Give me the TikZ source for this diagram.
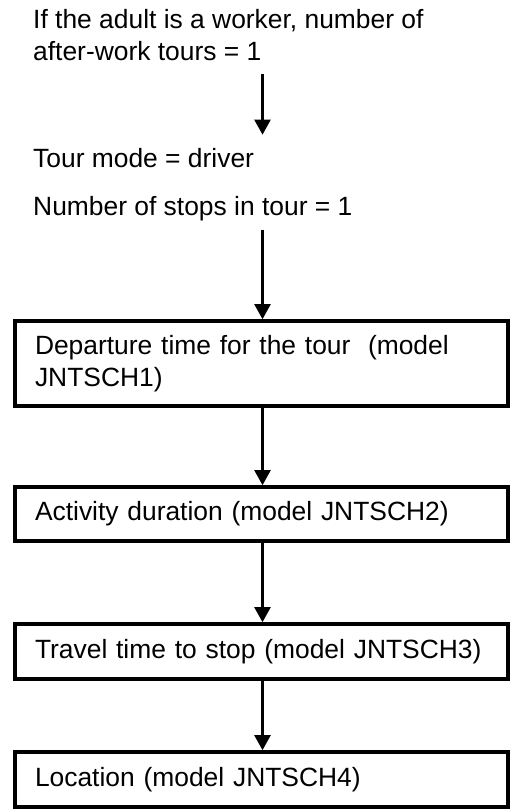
\documentclass[tikz,border=0pt]{standalone}
\usepackage{fontspec}
\setmainfont{Liberation Sans}
\usetikzlibrary{arrows.meta,calc}

\tikzset{
  FlowTxt/.style={inner sep=0pt,align=left,anchor=base west,font=\fontsize{26.4}{32}\selectfont},
  FlowBox/.style={draw,line width=3.6pt,inner xsep=20pt,inner ysep=0pt,
    text width=453pt,align=left,minimum height=#1,font=\fontsize{26.4}{32}\selectfont},
  FlowArr/.style={line width=2.2pt,-{Triangle[width=16pt,length=15pt]}}
}

\begin{document}
\begin{tikzpicture}[x=1pt,y=-1pt]
\useasboundingbox (0,0) rectangle (514,809);

\coordinate (ax) at (262.5,0);

% base of a two-line node = base of its last line
\node[FlowTxt] (intro) at (33,60) {If the adult is a worker, number of\\after-work tours = 1};
\node[FlowTxt] (mode) at (33,167) {Tour mode = driver};
\node[FlowTxt] (stops) at (33,215) {Number of stops in tour = 1};

\node[FlowBox=85pt] (dep) at (261.5,363.5) {Departure time for the tour\ \ (model\\JNTSCH1)};
\node[FlowBox=54pt] (dur) at (261.5,514) {Activity duration (model JNTSCH2)};
\node[FlowBox=55pt] (trv) at (261.5,651.5) {Travel time to stop (model JNTSCH3)};
\node[FlowBox=55pt] (loc) at (261.5,779.5) {Location (model JNTSCH4)};

\draw[FlowArr] ([yshift=-14pt]intro.south -| ax) -- ([yshift=13pt]mode.north -| ax);
\draw[FlowArr] ([yshift=-9pt]stops.south -| ax) -- (dep.north -| ax);
\draw[FlowArr] (dep.south -| ax) -- (dur.north -| ax);
\draw[FlowArr] (dur.south -| ax) -- (trv.north -| ax);
\draw[FlowArr] (trv.south -| ax) -- (loc.north -| ax);

\end{tikzpicture}
\end{document}
